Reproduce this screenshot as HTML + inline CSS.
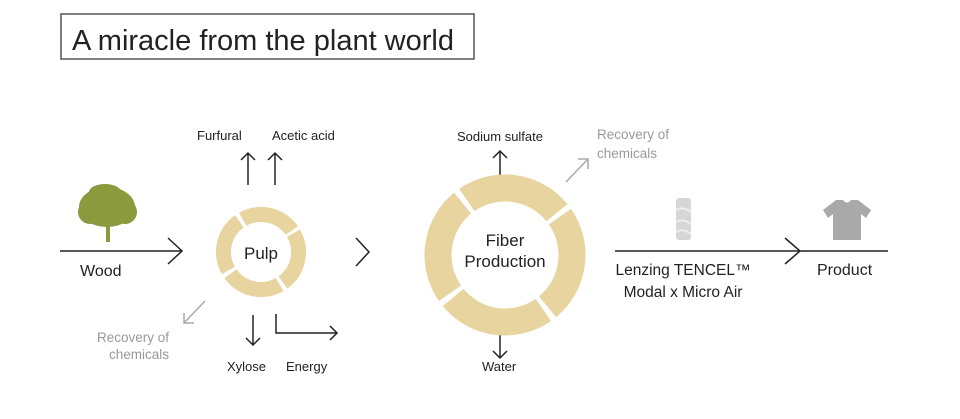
<!DOCTYPE html>
<html><head><meta charset="utf-8"><style>
html,body{margin:0;padding:0;background:#fff;}
svg{display:block;}
text{font-family:"Liberation Sans",sans-serif;}
</style></head><body>
<svg width="960" height="419" viewBox="0 0 960 419" xmlns="http://www.w3.org/2000/svg">
<rect x="61" y="14" width="413" height="45" fill="#fff" stroke="#555" stroke-width="1.5"/>
<text x="72" y="50" font-size="29" fill="#222">A miracle from the plant world</text>

<!-- tree -->
<g fill="#8a9a3c">
<ellipse cx="107" cy="207" rx="28" ry="20"/>
<ellipse cx="90" cy="212" rx="12" ry="12"/>
<ellipse cx="125" cy="212" rx="12" ry="12"/>
<ellipse cx="105" cy="192" rx="16" ry="8"/>
<rect x="106" y="220" width="4" height="22"/>
</g>
<g stroke="#222" stroke-width="1.5" fill="none">
<line x1="60" y1="251" x2="182" y2="251"/>
<polyline points="168,238 182,251 168,264"/>
<polyline points="356,238 369,252 356,266"/>
<line x1="615" y1="251" x2="888" y2="251"/>
<polyline points="785,238 800,251 785,264"/>
<line x1="248" y1="185" x2="248" y2="153"/><polyline points="241,160 248,153 255,160"/>
<line x1="275" y1="185" x2="275" y2="153"/><polyline points="268,160 275,153 282,160"/>
<line x1="253" y1="315" x2="253" y2="345"/><polyline points="246,338 253,345 260,338"/>
<polyline points="276,314 276,333 337,333"/><polyline points="330,326 337,333 330,340"/>
<line x1="500" y1="185" x2="500" y2="151"/><polyline points="493,158 500,151 507,158"/>
<line x1="500" y1="325" x2="500" y2="358"/><polyline points="493,351 500,358 507,351"/>
</g>
<g stroke="#aaa" stroke-width="1.5" fill="none">
<line x1="205" y1="301" x2="184" y2="323"/><polyline points="184,313 184,323 194,323"/>
<line x1="566" y1="182" x2="588" y2="159"/><polyline points="578,159 588,159 588,169"/>
</g>

<circle cx="261" cy="252" r="37.5" fill="none" stroke="#e7d49e" stroke-width="15" stroke-dasharray="55 4" transform="rotate(-30 261 252)"/>
<text x="261" y="259" font-size="17" text-anchor="middle" fill="#222">Pulp</text>
<circle cx="505" cy="255" r="67" fill="none" stroke="#e7d49e" stroke-width="27" stroke-dasharray="100 5.3" transform="rotate(-35 505 255)"/>
<text x="505" y="246" font-size="17" text-anchor="middle" fill="#222">Fiber</text>
<text x="505" y="267" font-size="17" text-anchor="middle" fill="#222">Production</text>

<rect x="676" y="198" width="15" height="42" rx="3" fill="#d6d6d6"/>
<path d="M676 210 Q683 206 691 212 M676 222 Q683 218 691 224 M676 232 Q683 228 691 234" stroke="#eee" stroke-width="2" fill="none"/>
<path d="M836 200 L843 200 Q847 205 851 200 L858 200 L871 210 L866 218 L861 214 L861 240 L833 240 L833 214 L828 218 L823 210 Z" fill="#a9a9a9"/>

<g font-size="13" fill="#222">
<text x="197" y="140">Furfural</text>
<text x="272" y="140">Acetic acid</text>
<text x="227" y="371">Xylose</text>
<text x="286" y="371">Energy</text>
<text x="457" y="141">Sodium sulfate</text>
<text x="482" y="371">Water</text>
</g>
<g font-size="13.5" fill="#999">
<text x="169" y="342" text-anchor="end">Recovery of</text>
<text x="169" y="359" text-anchor="end">chemicals</text>
<text x="597" y="139">Recovery of</text>
<text x="597" y="158">chemicals</text>
</g>
<g font-size="16" fill="#222">
<text x="80" y="276">Wood</text>
<text x="683" y="275" text-anchor="middle" font-size="15.5">Lenzing TENCEL™</text>
<text x="683" y="297" text-anchor="middle" font-size="15.5">Modal x Micro Air</text>
<text x="817" y="275">Product</text>
</g>
</svg>
</body></html>
